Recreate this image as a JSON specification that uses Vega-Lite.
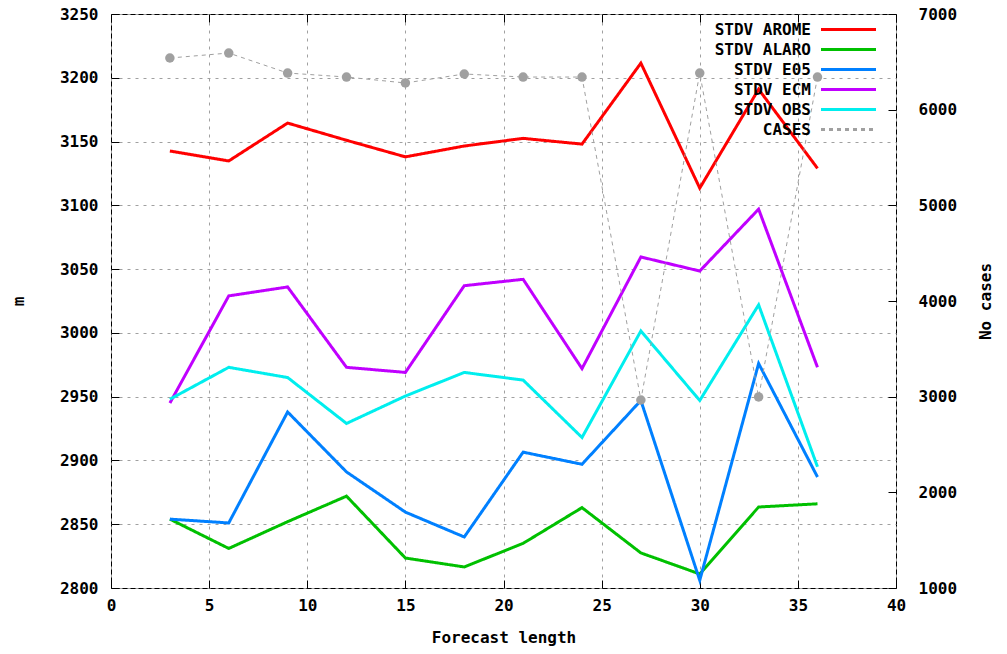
{
  "$schema": "https://vega.github.io/schema/vega-lite/v6.json",
  "width": 785,
  "height": 574,
  "autosize": {"type": "none"},
  "padding": {"left": 111, "top": 14, "right": 111, "bottom": 66},
  "background": "white",
  "config": {
    "font": "DejaVu Sans Mono",
    "view": {"stroke": "black", "strokeWidth": 1},
    "axis": {
      "labelFont": "DejaVu Sans Mono",
      "labelFontWeight": "bold",
      "labelFontSize": 16,
      "labelColor": "black",
      "labelFlush": false,
      "labelOverlap": false,
      "titleFont": "DejaVu Sans Mono",
      "titleFontWeight": "bold",
      "titleFontSize": 16,
      "titleColor": "black",
      "domainColor": "black",
      "tickColor": "black",
      "tickSize": -8,
      "gridColor": "#a0a0a0",
      "gridDash": [3, 5],
      "gridWidth": 1,
      "format": "d"
    },
    "legend": {
      "orient": "none",
      "legendX": 726,
      "legendY": 4,
      "padding": 0,
      "offset": 0,
      "symbolType": "M-2.75,0H2.75",
      "symbolSize": 400,
      "symbolStrokeWidth": 3,
      "labelAlign": "right",
      "labelOffset": -49,
      "labelFont": "DejaVu Sans Mono",
      "labelFontWeight": "bold",
      "labelFontSize": 16,
      "labelColor": "black",
      "rowPadding": 0
    }
  },
  "datasets": {
    "stdv": [
      {"h": 3, "series": "STDV AROME", "value": 3142.6},
      {"h": 6, "series": "STDV AROME", "value": 3134.8},
      {"h": 9, "series": "STDV AROME", "value": 3164.5},
      {"h": 12, "series": "STDV AROME", "value": 3151},
      {"h": 15, "series": "STDV AROME", "value": 3138},
      {"h": 18, "series": "STDV AROME", "value": 3146.5},
      {"h": 21, "series": "STDV AROME", "value": 3152.5},
      {"h": 24, "series": "STDV AROME", "value": 3148},
      {"h": 27, "series": "STDV AROME", "value": 3211.5},
      {"h": 30, "series": "STDV AROME", "value": 3113.5},
      {"h": 33, "series": "STDV AROME", "value": 3191},
      {"h": 36, "series": "STDV AROME", "value": 3129},
      {"h": 3, "series": "STDV ALARO", "value": 2854},
      {"h": 6, "series": "STDV ALARO", "value": 2831},
      {"h": 9, "series": "STDV ALARO", "value": 2852},
      {"h": 12, "series": "STDV ALARO", "value": 2872},
      {"h": 15, "series": "STDV ALARO", "value": 2823.5},
      {"h": 18, "series": "STDV ALARO", "value": 2816.5},
      {"h": 21, "series": "STDV ALARO", "value": 2835},
      {"h": 24, "series": "STDV ALARO", "value": 2863},
      {"h": 27, "series": "STDV ALARO", "value": 2827.5},
      {"h": 30, "series": "STDV ALARO", "value": 2811},
      {"h": 33, "series": "STDV ALARO", "value": 2863.5},
      {"h": 36, "series": "STDV ALARO", "value": 2866},
      {"h": 3, "series": "STDV E05", "value": 2854},
      {"h": 6, "series": "STDV E05", "value": 2851},
      {"h": 9, "series": "STDV E05", "value": 2938},
      {"h": 12, "series": "STDV E05", "value": 2891},
      {"h": 15, "series": "STDV E05", "value": 2859.5},
      {"h": 18, "series": "STDV E05", "value": 2840},
      {"h": 21, "series": "STDV E05", "value": 2906.5},
      {"h": 24, "series": "STDV E05", "value": 2897},
      {"h": 27, "series": "STDV E05", "value": 2947},
      {"h": 30, "series": "STDV E05", "value": 2806},
      {"h": 33, "series": "STDV E05", "value": 2976},
      {"h": 36, "series": "STDV E05", "value": 2887},
      {"h": 3, "series": "STDV ECM", "value": 2945},
      {"h": 6, "series": "STDV ECM", "value": 3029},
      {"h": 9, "series": "STDV ECM", "value": 3036},
      {"h": 12, "series": "STDV ECM", "value": 2973},
      {"h": 15, "series": "STDV ECM", "value": 2969},
      {"h": 18, "series": "STDV ECM", "value": 3037},
      {"h": 21, "series": "STDV ECM", "value": 3042},
      {"h": 24, "series": "STDV ECM", "value": 2972},
      {"h": 27, "series": "STDV ECM", "value": 3059.5},
      {"h": 30, "series": "STDV ECM", "value": 3048.5},
      {"h": 33, "series": "STDV ECM", "value": 3097},
      {"h": 36, "series": "STDV ECM", "value": 2973},
      {"h": 3, "series": "STDV OBS", "value": 2948},
      {"h": 6, "series": "STDV OBS", "value": 2973},
      {"h": 9, "series": "STDV OBS", "value": 2965},
      {"h": 12, "series": "STDV OBS", "value": 2929},
      {"h": 15, "series": "STDV OBS", "value": 2950.5},
      {"h": 18, "series": "STDV OBS", "value": 2969},
      {"h": 21, "series": "STDV OBS", "value": 2963},
      {"h": 24, "series": "STDV OBS", "value": 2918},
      {"h": 27, "series": "STDV OBS", "value": 3001.5},
      {"h": 30, "series": "STDV OBS", "value": 2947},
      {"h": 33, "series": "STDV OBS", "value": 3022},
      {"h": 36, "series": "STDV OBS", "value": 2895}
    ],
    "cases": [
      {"h": 3, "cases": 6540},
      {"h": 6, "cases": 6592},
      {"h": 9, "cases": 6383},
      {"h": 12, "cases": 6341},
      {"h": 15, "cases": 6279},
      {"h": 18, "cases": 6373},
      {"h": 21, "cases": 6341},
      {"h": 24, "cases": 6341},
      {"h": 27, "cases": 2965},
      {"h": 30, "cases": 6383},
      {"h": 33, "cases": 2997},
      {"h": 36, "cases": 6341}
    ]
  },
  "layer": [
    {
      "data": {"name": "stdv"},
      "mark": {"type": "line", "strokeWidth": 3, "clip": true},
      "encoding": {
        "x": {
          "field": "h", "type": "quantitative",
          "scale": {"domain": [0, 40], "nice": false},
          "axis": {"orient": "bottom", "values": [0, 5, 10, 15, 20, 25, 30, 35, 40], "grid": true, "title": "Forecast length", "labelPadding": 25, "titleY": 49, "titleBaseline": "middle", "labelBaseline": "middle", "labelAngle": 0, "domain": false}
        },
        "y": {
          "field": "value", "type": "quantitative",
          "scale": {"domain": [2800, 3250], "nice": false, "zero": false},
          "axis": {"orient": "left", "values": [2800, 2850, 2900, 2950, 3000, 3050, 3100, 3150, 3200, 3250], "grid": true, "title": "m", "labelPadding": 21, "titleX": -93, "titleBaseline": "middle", "titleAngle": 270, "domain": false}
        },
        "color": {
          "field": "series", "type": "nominal",
          "scale": {
            "domain": ["STDV AROME", "STDV ALARO", "STDV E05", "STDV ECM", "STDV OBS", "CASES"],
            "range": ["#ff0000", "#00c000", "#0080ff", "#c000ff", "#00eeee", "#a0a0a0"]
          },
          "legend": {"title": null}
        },
        "strokeDash": {
          "field": "series", "type": "nominal",
          "scale": {
            "domain": ["STDV AROME", "STDV ALARO", "STDV E05", "STDV ECM", "STDV OBS", "CASES"],
            "range": [[1, 0], [1, 0], [1, 0], [1, 0], [1, 0], [4, 4]]
          },
          "legend": {"title": null}
        }
      }
    },
    {
      "data": {"name": "cases"},
      "encoding": {
        "x": {
          "field": "h", "type": "quantitative",
          "scale": {"domain": [0, 40], "nice": false},
          "axis": {"orient": "top", "values": [0, 5, 10, 15, 20, 25, 30, 35, 40], "grid": false, "labels": false, "title": null, "domain": false}
        },
        "y": {
          "field": "cases", "type": "quantitative",
          "scale": {"domain": [1000, 7000], "nice": false, "zero": false},
          "axis": {"orient": "right", "values": [1000, 2000, 3000, 4000, 5000, 6000, 7000], "grid": false, "title": "No cases", "labelPadding": 30, "titleX": 89, "titleBaseline": "middle", "titleAngle": 270, "domain": false}
        }
      },
      "layer": [
        {
          "mark": {"type": "line", "strokeWidth": 1, "clip": true},
          "encoding": {
            "color": {"datum": "CASES", "type": "nominal"},
            "strokeDash": {"datum": "CASES", "type": "nominal"}
          }
        },
        {
          "mark": {"type": "point", "filled": true, "size": 90, "color": "#a0a0a0", "opacity": 1}
        }
      ]
    }
  ],
  "resolve": {"scale": {"y": "independent"}, "axis": {"x": "independent"}}
}
